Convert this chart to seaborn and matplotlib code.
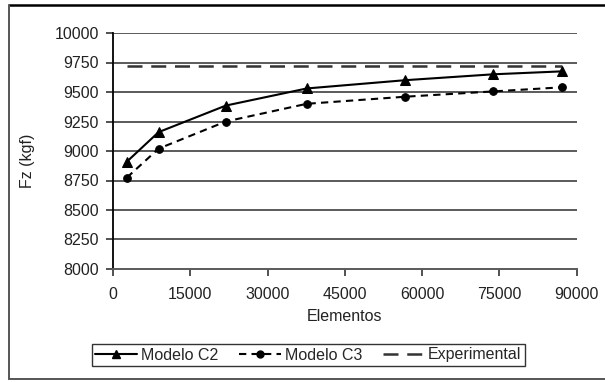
import matplotlib
matplotlib.use("Agg")
import matplotlib.pyplot as plt
import seaborn as sns
import pandas as pd
from matplotlib.lines import Line2D

# Mesh size (number of elements) and computed vertical force Fz (kgf)
elementos = [2700, 8850, 21900, 37600, 56700, 73800, 87200]
fz_c2 = [8910, 9160, 9385, 9530, 9600, 9650, 9675]
fz_c3 = [8775, 9020, 9250, 9400, 9460, 9505, 9540]
fz_experimental = 9720

y_ticks = [8000, 8250, 8500, 8750, 9000, 9250, 9500, 9750, 10000]
x_ticks = [0, 15000, 30000, 45000, 60000, 75000, 90000]

df = pd.DataFrame({
    "Elementos": elementos * 3,
    "Fz": fz_c2 + fz_c3 + [fz_experimental] * len(elementos),
    "Serie": ["Modelo C2"] * len(elementos) + ["Modelo C3"] * len(elementos)
             + ["Experimental"] * len(elementos),
})

sns.set_theme(style="white")
plt.rcParams["font.family"] = ["Liberation Sans", "DejaVu Sans"]

fig = plt.figure(figsize=(6.05, 3.82), dpi=100)
ax = fig.add_axes([113 / 605, 1 - 269 / 382, (576.7 - 113) / 605, (269 - 33) / 382])

grid_c = "#5a5a5a"
for yv in y_ticks[1:]:
    ax.axhline(yv, color=grid_c, lw=1.4, zorder=1)

C3_DASH = (3.5, 2.5)
EXP_DASH = (6, 3.5)


def draw(serie, dashes=None, **kw):
    n0 = len(ax.lines)
    sns.lineplot(data=df[df.Serie == serie], x="Elementos", y="Fz", ax=ax,
                 legend=False, **kw)
    if dashes is not None:
        for ln in ax.lines[n0:]:
            ln.set_dashes(dashes)


draw("Modelo C2", color="black", lw=1.5, marker="^", markersize=6.5,
     markeredgecolor="black", zorder=4)
draw("Modelo C3", dashes=C3_DASH, color="black", lw=1.5, marker="o",
     markersize=5.5, markeredgecolor="black", zorder=4)
draw("Experimental", dashes=EXP_DASH, color="#333333", lw=1.8, zorder=3)

ax.set_xlim(0, 90000)
ax.set_ylim(8000, 10000)
ax.set_xticks(x_ticks)
ax.set_yticks(y_ticks)
ax.set_xticklabels([str(v) for v in x_ticks])
ax.set_yticklabels([str(v) for v in y_ticks])

for side in ("top", "right"):
    ax.spines[side].set_visible(False)
ax.spines["left"].set_color("black")
ax.spines["left"].set_linewidth(1.3)
ax.spines["bottom"].set_color(grid_c)
ax.spines["bottom"].set_linewidth(1.4)

FS = 11.5
ax.tick_params(axis="both", which="major", direction="out", length=5,
               width=1.2, color="#333333", labelsize=FS, labelcolor="#222222",
               bottom=True, left=True)
ax.tick_params(axis="x", pad=8)
ax.tick_params(axis="y", pad=5)

ax.set_xlabel("Elementos", fontsize=FS, color="#222222", labelpad=5)
ax.set_ylabel("Fz (kgf)", fontsize=FS, color="#222222")
ax.yaxis.set_label_coords(-0.168, 0.46)

handles = [
    Line2D([], [], color="black", lw=1.5, marker="^", markersize=6),
    Line2D([], [], color="black", lw=1.5, marker="o", markersize=5, dashes=C3_DASH),
    Line2D([], [], color="#333333", lw=1.8, dashes=EXP_DASH),
]
leg = fig.legend(handles, ["Modelo C2", "Modelo C3", "Experimental"],
                 loc="center", bbox_to_anchor=(308.5 / 605, 1 - 355 / 382),
                 ncol=3, fontsize=FS, frameon=True, fancybox=False,
                 handlelength=2.6, handletextpad=0.25, columnspacing=1.3,
                 borderpad=0.2, borderaxespad=0)
leg.get_frame().set_edgecolor("black")
leg.get_frame().set_linewidth(1.0)

# Outer chart frame (open on the right side)
fig.add_artist(Line2D([8.5 / 605, 1.0], [1 - 4.5 / 382] * 2, color="black",
                      lw=1.8, transform=fig.transFigure))
fig.add_artist(Line2D([8.5 / 605] * 2, [1 - 4.5 / 382, 1 - 379 / 382],
                      color="#555555", lw=1.4, transform=fig.transFigure))
fig.add_artist(Line2D([8.5 / 605, 1.0], [1 - 379 / 382] * 2, color="#555555",
                      lw=1.4, transform=fig.transFigure))

fig.savefig("out.png", dpi=100)
